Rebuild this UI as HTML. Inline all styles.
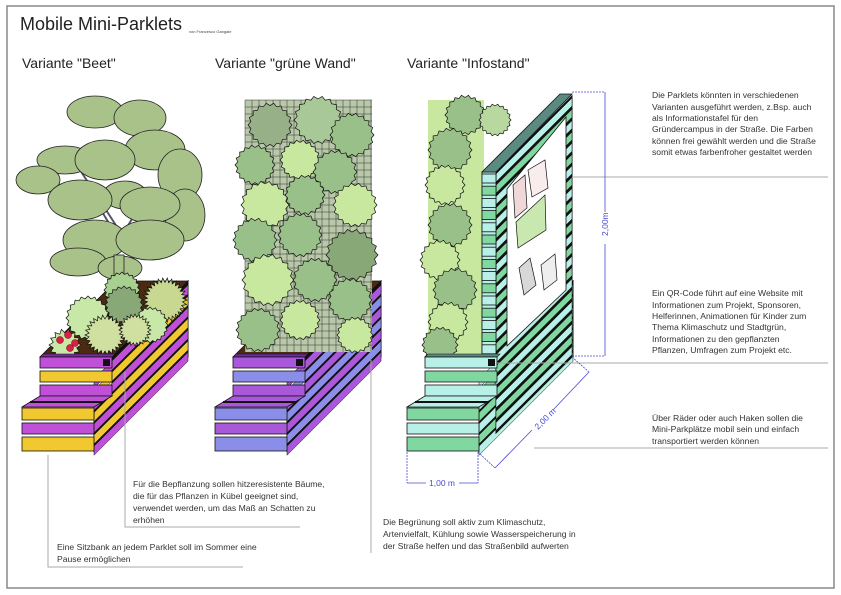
<!DOCTYPE html>
<html><head><meta charset="utf-8"><style>
html,body{margin:0;padding:0;background:#fff;}
svg{display:block;font-family:"Liberation Sans",sans-serif;}
</style></head><body>
<svg id="s" width="841" height="595" viewBox="0 0 841 595" xmlns="http://www.w3.org/2000/svg">
<rect x="7" y="6" width="827" height="582" fill="#fff" stroke="#888" stroke-width="1.5"/>
<text x="20" y="30" font-size="18" fill="#222">Mobile Mini-Parklets</text>
<text x="189" y="33" font-size="4" fill="#444">von Francesco Gangale</text>
<text x="22" y="68" font-size="14" fill="#222">Variante "Beet"</text>
<text x="215" y="68" font-size="14" fill="#222">Variante "grüne Wand"</text>
<text x="407" y="68" font-size="14" fill="#222">Variante "Infostand"</text>
<g id="g"></g>
<g font-size="8.6" fill="#333">
<text x="652" y="98">Die Parklets könnten in verschiedenen</text>
<text x="652" y="110">Varianten ausgeführt werden, z.Bsp. auch</text>
<text x="652" y="121">als Informationstafel für den</text>
<text x="652" y="132">Gründercampus in der Straße.  Die Farben</text>
<text x="652" y="144">können frei gewählt werden und die Straße</text>
<text x="652" y="155">somit etwas farbenfroher gestaltet werden</text>
<text x="652" y="296">Ein QR-Code führt auf eine Website mit</text>
<text x="652" y="308">Informationen zum Projekt, Sponsoren,</text>
<text x="652" y="319">Helferinnen, Animationen für Kinder zum</text>
<text x="652" y="330">Thema Klimaschutz und Stadtgrün,</text>
<text x="652" y="342">Informationen zu den gepflanzten</text>
<text x="652" y="353">Pflanzen, Umfragen zum Projekt etc.</text>
<text x="652" y="421">Über Räder oder auch Haken sollen die</text>
<text x="652" y="432">Mini-Parkplätze mobil sein und einfach</text>
<text x="652" y="444">transportiert werden können</text>
<text x="133" y="487">Für die Bepflanzung sollen hitzeresistente Bäume,</text>
<text x="133" y="499">die für das Pflanzen in Kübel geeignet sind,</text>
<text x="133" y="511">verwendet werden, um das Maß an Schatten zu</text>
<text x="133" y="523">erhöhen</text>
<text x="57" y="550">Eine Sitzbank an jedem Parklet soll im Sommer eine</text>
<text x="57" y="562">Pause ermöglichen</text>
<text x="383" y="525">Die Begrünung soll aktiv zum Klimaschutz,</text>
<text x="383" y="537">Artenvielfalt, Kühlung sowie Wasserspeicherung in</text>
<text x="383" y="549">der Straße helfen und das Straßenbild aufwerten</text>
</g>
<g stroke="#aaa" stroke-width="1" fill="none">
<polyline points="572,177 828,177"/>
<polyline points="497,363 828,363"/>
<polyline points="534,448 828,448"/>
<polyline points="125,372 125,527 300,527"/>
<polyline points="48,455 48,567 243,567"/>
<polyline points="371,360 371,553"/>
</g>
<g stroke="#4a4ad8" stroke-width="0.8" fill="none">
<polyline points="572,92 605,92" stroke-dasharray="2,1"/>
<polyline points="572,356 605,356" stroke-dasharray="2,1"/>
<line x1="605" y1="92" x2="605" y2="212"/><line x1="605" y1="244" x2="605" y2="356"/>
<line x1="407" y1="452" x2="407" y2="483" stroke-dasharray="2,1"/>
<line x1="478" y1="452" x2="478" y2="483" stroke-dasharray="2,1"/>
<line x1="407" y1="483" x2="426" y2="483"/><line x1="459" y1="483" x2="478" y2="483"/>
<line x1="478" y1="452" x2="495" y2="468" stroke-dasharray="2,1"/>
<line x1="572" y1="357" x2="589" y2="372" stroke-dasharray="2,1"/>
<line x1="495" y1="468" x2="532" y2="430"/><line x1="553" y1="410" x2="589" y2="372"/>
</g>
<text x="0" y="0" font-size="8.5" fill="#4a4ad8" transform="translate(608,236) rotate(-90)">2,00m</text>
<text x="429" y="486" font-size="8.5" fill="#4a4ad8">1,00 m</text>
<text x="0" y="0" font-size="8.5" fill="#4a4ad8" transform="translate(538,430) rotate(-45)">2,00 m</text>
</svg>
<script>
var g=document.getElementById('g'),h='';
function P(pts,f,sw){h+='<polygon points="'+pts.map(p=>p.join(',')).join(' ')+'" fill="'+f+'" stroke="#111" stroke-width="'+(sw||0.8)+'"/>';}
function R(x,y,w,hh,f){h+='<rect x="'+x+'" y="'+y+'" width="'+w+'" height="'+hh+'" fill="'+f+'" stroke="#111" stroke-width="0.8"/>';}
function J(cx,cy,r,f,n,a){n=n||18;a=a||0.12;var p=[];for(var i=0;i<n*2;i++){var t=i*Math.PI/n,rr=r*(i%2?1-a:1);p.push([(cx+rr*Math.cos(t)).toFixed(1),(cy+rr*Math.sin(t)).toFixed(1)]);}P(p,f,0.7);}
function planter(dx,c1,c2,rim,pl){
 var bx=94+dx;
 P([[112+dx,357],[188+dx,281],[188+dx,357],[bx,451],[bx,407],[112+dx,396]],'#111',1);
 for(var i=0;i<7;i++){var y0=285+i*11.2;var col=i%2?c2:c1;P([[bx,y0+94],[188+dx,y0],[188+dx,y0+9],[bx,y0+103]],col,0.5);}
 P([[40+dx,357],[112+dx,357],[188+dx,281],[116+dx,281]],'#4a2a10',0.8);
 pl();
 P([[40+dx,357],[112+dx,357],[115+dx,354],[43+dx,354]],rim,0.6);
 R(40+dx,357,72,11,c1);R(40+dx,371,72,11,c2);R(40+dx,385,72,11,c1);
 h+='<rect x="'+(103+dx)+'" y="359" width="7" height="7" fill="#111"/>';
 P([[22+dx,407],[94+dx,407],[112+dx,396],[40+dx,396]],c1,0.8);
 h+='<line x1="'+(30+dx)+'" y1="402" x2="'+(103+dx)+'" y2="402" stroke="#111" stroke-width="2"/>';
 R(22+dx,408,72,12,c2);R(22+dx,423,72,11,c1);R(22+dx,437,72,14,c2);
}
function beet(){
 var tc='#a8c28a';
 h+='<path d="M119 240 L95 200 M119 240 L150 190 M119 230 L80 170" stroke="#556" stroke-width="2" fill="none"/>';
 [[95,112,28,16],[140,118,26,18],[65,160,28,14],[38,180,22,14],[155,150,30,20],[180,175,22,26],[105,160,30,20],[125,195,22,14],[80,200,32,20],[185,215,20,26],[150,205,30,18],[95,240,32,20],[150,240,34,20],[78,262,28,14],[120,268,22,12]].forEach(function(e){h+='<ellipse cx="'+e[0]+'" cy="'+e[1]+'" rx="'+e[2]+'" ry="'+e[3]+'" fill="'+tc+'" stroke="#222" stroke-width="0.8"/>';});
 h+='<rect x="114" y="255" width="10" height="60" fill="#a8c28a" stroke="#222" stroke-width="0.8"/>';
 J(165,300,22,'#c8d890',30,0.2);J(150,325,18,'#c8e8a8',20);J(122,290,18,'#a8d090',20);J(88,318,22,'#c8e8a8',20);J(124,305,19,'#88a878',20);
 J(105,335,20,'#d0e0a0',26,0.2);J(65,345,16,'#c8e8a8',14,0.25);J(135,330,16,'#d0e0a0',24,0.2);
 [[60,340],[70,348],[68,335],[75,343]].forEach(function(p){h+='<circle cx="'+p[0]+'" cy="'+p[1]+'" r="3.5" fill="#d8204a" stroke="#600" stroke-width="0.5"/>';});
}
function wand(){
 var gr='';for(var x=245;x<372;x+=7)gr+='<line x1="'+x+'" y1="100" x2="'+x+'" y2="352" stroke="#333" stroke-width="0.5"/>';
 for(var y=100;y<352;y+=7)gr+='<line x1="245" y1="'+y+'" x2="372" y2="'+y+'" stroke="#333" stroke-width="0.5"/>';
 h+='<rect x="245" y="100" width="127" height="252" fill="#b8c8a8"/>'+gr;
 var pos=[[270,125,22,'#98b088'],[318,120,24,'#a8c898'],[352,135,22,'#98c088'],[255,165,20,'#98c088'],[300,160,20,'#c8e8a0'],[335,172,22,'#98c088'],[265,205,24,'#c8e8a0'],[305,195,20,'#98c088'],[355,205,22,'#c8e8a0'],[255,240,22,'#98c088'],[300,235,22,'#98c088'],[352,255,26,'#88a878'],[268,280,26,'#c8e8a0'],[315,280,22,'#98c088'],[350,300,22,'#98c088'],[300,320,20,'#c8e8a0'],[258,330,22,'#98c088'],[355,335,18,'#c8e8a0']];
 pos.forEach(function(p){J(p[0],p[1],p[2],p[3],18);});
}
function info(){
 h+='<rect x="428" y="100" width="56" height="255" fill="#c8e8a0"/>';
 var pos=[[465,115,20,'#98c088'],[495,120,16,'#b8d8a0'],[450,150,22,'#98c088'],[445,185,20,'#c8e8a0'],[450,225,22,'#98c088'],[440,260,20,'#c8e8a0'],[455,290,22,'#98c088'],[448,322,20,'#c8e8a0'],[440,345,18,'#98c088']];
 pos.forEach(function(p){J(p[0],p[1],p[2],p[3],18);});
 P([[496,172],[572,96],[572,357],[496,433]],'#111',1);
 for(var i=0;i<23;i++){var y0=98+i*11.3;P([[496,y0+76],[572,y0],[572,y0+8],[496,y0+84]],i%2?'#80d8a0':'#b8f0e8',0.5);}
 P([[507,189],[566,117],[566,290],[507,346]],'#fff',0.8);
 P([[513,185],[525,175],[527,208],[515,218]],'#f0d8d8',0.7);
 P([[528,170],[545,160],[548,188],[532,197]],'#f8ecec',0.7);
 P([[516,222],[545,195],[546,230],[518,248]],'#c8e8b0',0.7);
 P([[519,268],[530,258],[536,285],[524,295]],'#d8d8d8',0.7);
 P([[541,265],[555,254],[557,280],[544,290]],'#eee',0.7);
 P([[482,172],[496,172],[496,356],[482,356]],'#b8f0e8',0.8);
 for(var i=0;i<15;i++){var y=174+i*12.2;R(482,y,14,9,i%2?'#80d8a0':'#b8f0e8');}
 P([[482,172],[496,172],[572,94],[560,94]],'#5a8a80',0.8);
}
planter(0,'#c050d8','#f2c830','#7a2a9a',beet);
planter(193,'#a858d8','#8a8ee8','#6a2aa0',wand);
planter(385,'#b8f0e8','#80d8a0','#5a8a80',info);
g.innerHTML=h;
</script>
</body></html>
